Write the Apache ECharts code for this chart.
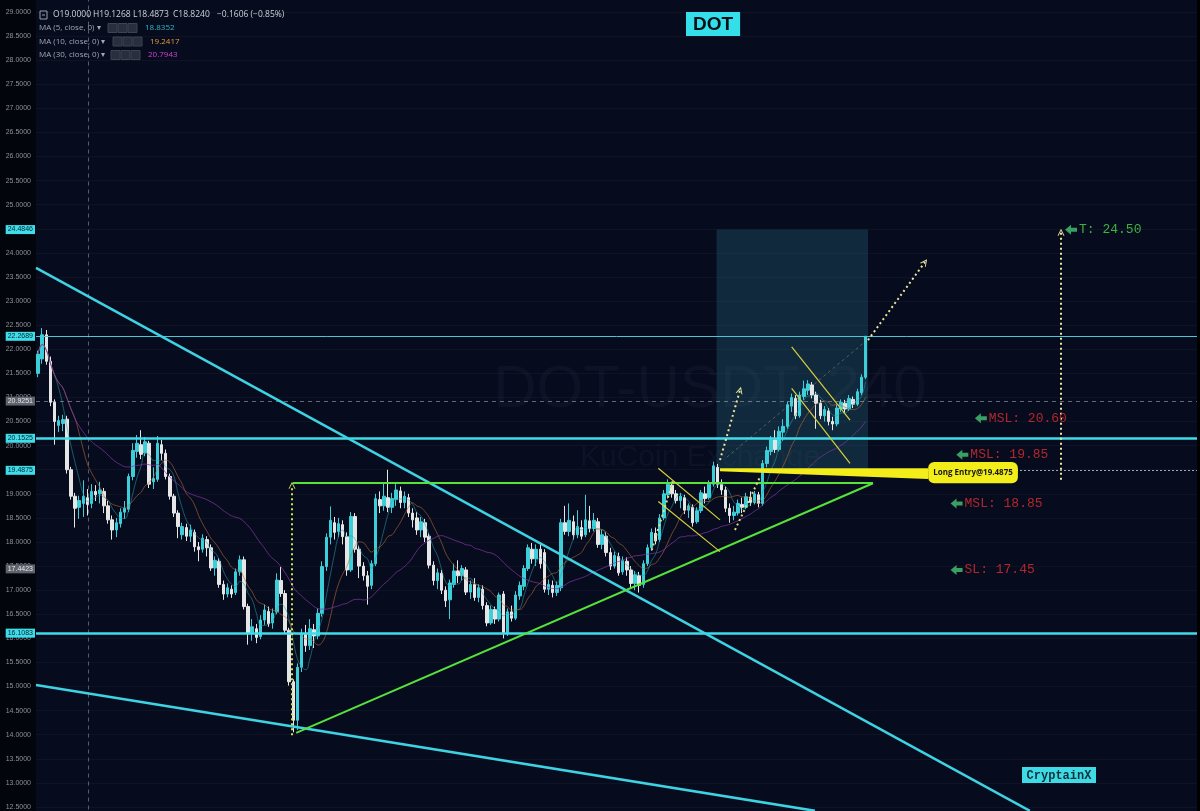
<!DOCTYPE html>
<html>
<head>
<meta charset="utf-8">
<script src="https://cdn.jsdelivr.net/npm/echarts/dist/echarts.min.js"></script>
<style>
  html, body { margin: 0; padding: 0; background: #000; }
  #main { width: 1200px; height: 811px; }
</style>
</head>
<body>
<div id="main"></div>
<script>
// DOT-USDT 4h candles: [open, close, low, high]
var candles = [
  [21.50,21.90,21.42,21.97],[21.80,22.30,21.70,22.44],[22.30,21.75,21.68,22.40],[21.75,20.90,20.82,21.85],[20.90,20.50,20.02,20.96],
  [20.42,20.52,20.28,20.62],[20.46,20.54,20.30,20.64],[20.55,19.50,19.42,20.62],[19.50,18.95,18.88,19.56],[18.95,18.70,18.30,19.02],
  [18.72,18.86,18.48,18.96],[18.80,18.95,18.52,19.28],[18.92,18.78,18.55,19.10],[18.80,19.05,18.70,19.20],[19.05,18.98,18.85,19.18],
  [19.00,19.08,18.80,19.25],[19.05,18.75,18.60,19.12],[18.75,18.46,18.38,18.85],[18.46,18.25,18.05,18.55],[18.25,18.40,18.10,18.50],
  [18.38,18.62,18.30,18.70],[18.62,18.70,18.48,18.85],[18.68,19.36,18.62,19.42],[19.36,19.90,19.28,20.05],[19.88,20.05,19.75,20.22],
  [20.02,19.82,19.72,20.32],[19.85,20.08,19.78,20.18],[20.05,19.20,19.12,20.10],[19.25,19.32,19.10,19.55],[19.30,20.05,19.25,20.20],
  [20.02,19.84,19.70,20.12],[19.84,19.36,19.30,19.92],[19.36,18.95,18.88,19.42],[18.95,18.60,18.52,19.00],[18.60,18.32,18.08,18.66],
  [18.15,18.32,18.05,18.40],[18.30,18.12,18.02,18.38],[18.12,18.25,18.00,18.36],[18.20,17.90,17.80,18.26],[17.90,17.84,17.60,18.00],
  [17.85,18.08,17.78,18.16],[18.05,17.88,17.70,18.12],[17.88,17.46,17.40,17.95],[17.46,17.62,17.30,17.70],[17.60,17.12,17.05,17.66],
  [17.12,16.92,16.80,17.20],[16.92,17.05,16.85,17.14],[17.02,16.92,16.84,17.10],[16.95,17.38,16.90,17.45],[17.38,17.63,17.30,17.72],
  [17.63,16.66,16.60,17.70],[16.66,16.10,15.87,16.72],[16.12,16.24,15.95,16.40],[16.20,16.02,15.90,16.30],[16.04,16.38,15.98,16.48],
  [16.38,16.59,16.28,16.70],[16.56,16.30,16.24,16.66],[16.32,16.52,16.20,16.62],[16.55,17.21,16.50,17.35],[17.20,16.93,16.86,17.48],
  [16.93,16.17,16.10,17.00],[16.17,15.10,15.02,16.22],[15.10,14.30,14.05,15.15],[14.30,15.40,14.10,15.48],[15.40,16.10,15.30,16.20],
  [16.08,15.85,15.72,16.28],[15.85,16.20,15.76,16.40],[16.18,16.05,15.80,16.30],[16.05,16.52,15.98,16.62],[16.52,17.49,16.45,17.60],
  [17.49,18.10,17.40,18.18],[18.10,18.45,17.95,18.74],[18.40,18.20,18.05,18.52],[18.22,18.38,18.10,18.50],[18.36,18.11,17.95,18.45],
  [18.11,17.42,17.30,18.20],[17.42,18.53,17.38,18.62],[18.53,17.85,17.78,18.60],[17.85,17.50,17.25,17.92],[17.50,17.30,17.20,17.58],
  [17.30,17.08,16.70,17.40],[17.10,17.55,17.02,17.62],[17.55,18.90,17.50,19.00],[18.88,18.75,18.60,19.05],[18.75,18.95,18.65,19.22],
  [18.92,18.72,18.62,19.50],[18.72,18.90,18.60,19.02],[18.88,19.08,18.75,19.20],[19.06,18.82,18.70,19.15],[18.82,18.95,18.70,19.05],
  [18.92,18.60,18.52,19.00],[18.60,18.46,18.30,18.70],[18.50,18.25,18.15,18.62],[18.25,18.42,18.10,18.52],[18.40,18.10,18.00,18.48],
  [18.12,17.52,17.45,18.18],[17.52,17.20,17.10,17.60],[17.20,17.36,17.02,17.45],[17.35,17.00,16.92,17.42],[17.00,16.78,16.65,17.08],
  [16.80,17.15,16.40,17.22],[17.12,17.40,17.05,17.55],[17.40,17.30,17.15,17.62],[17.30,17.45,17.20,17.52],[17.42,16.96,16.90,17.48],
  [16.96,17.12,16.82,17.20],[17.12,16.85,16.78,17.25],[16.85,17.05,16.75,17.12],[17.02,16.68,16.60,17.10],[16.68,16.32,16.25,16.75],
  [16.32,16.60,16.28,16.68],[16.60,16.40,16.30,16.66],[16.40,16.90,16.35,16.95],[16.92,16.12,16.00,16.98],[16.12,16.55,16.05,16.62],
  [16.55,16.42,16.35,16.68],[16.42,16.90,16.38,16.98],[16.88,17.10,16.80,17.18],[17.08,17.45,17.00,17.52],[17.45,17.88,17.40,17.95],
  [17.85,17.65,17.55,17.98],[17.65,17.85,17.50,17.95],[17.85,17.55,17.45,17.95],[17.78,17.02,16.95,17.85],[17.02,17.12,16.90,17.22],
  [17.10,16.95,16.85,17.20],[16.95,17.10,16.88,17.18],[17.05,18.40,16.98,18.48],[18.40,18.22,18.15,18.75],[18.22,18.45,18.12,18.80],
  [18.42,18.15,18.05,18.55],[18.15,18.32,18.08,18.66],[18.30,18.12,18.05,18.45],[18.15,18.46,18.10,18.98],[18.44,18.28,18.20,18.75],
  [18.28,18.45,18.22,18.60],[18.42,17.95,17.88,18.50],[17.95,18.15,17.85,18.25],[18.12,17.78,17.70,18.20],[17.78,17.50,17.42,17.88],
  [17.50,17.72,17.45,17.80],[17.70,17.36,17.30,17.78],[17.38,17.62,17.32,17.70],[17.60,17.42,17.30,17.68],[17.42,17.14,17.05,17.50],
  [17.14,17.32,17.00,17.40],[17.30,17.10,16.95,17.38],[17.12,17.55,17.05,17.62],[17.55,17.88,17.50,17.95],[17.88,18.20,17.82,18.28],
  [18.18,18.02,17.95,18.30],[18.05,18.50,18.00,18.58],[18.50,19.00,18.45,19.08],[18.98,19.20,18.90,19.30],[19.18,19.00,18.92,19.25],
  [19.00,18.86,18.80,19.08],[18.86,18.95,18.70,19.02],[18.92,18.66,18.58,18.98],[18.66,18.75,18.50,18.80],[18.72,18.40,18.32,18.78],
  [18.42,18.65,18.38,18.72],[18.65,19.02,18.60,19.08],[19.00,18.90,18.80,19.15],[18.92,19.20,18.88,19.28],[19.20,19.58,19.15,19.67],
  [19.55,19.20,19.12,19.62],[19.22,19.08,18.98,19.30],[19.08,18.70,18.62,19.15],[18.70,18.55,18.40,18.80],[18.55,18.62,18.45,18.75],
  [18.60,18.80,18.55,18.88],[18.78,18.72,18.60,18.92],[18.72,18.94,18.68,19.02],[18.92,18.82,18.75,19.05],[18.82,19.00,18.78,19.06],
  [18.98,18.80,18.72,19.04],[18.80,19.63,18.75,19.70],[19.63,19.90,19.55,19.98],[19.88,20.12,19.80,20.20],[20.12,19.92,19.85,20.32],
  [19.92,20.30,19.88,20.40],[20.28,20.40,20.10,20.55],[20.40,20.85,20.35,20.92],[20.82,21.00,20.70,21.08],[20.98,20.62,20.55,21.05],
  [20.62,21.05,20.58,21.12],[21.02,21.18,20.95,21.35],[21.15,21.28,21.05,21.36],[21.26,21.05,20.98,21.32],[21.05,20.88,20.35,21.12],
  [20.88,20.62,20.55,20.95],[20.62,20.75,20.50,20.82],[20.72,20.50,20.42,20.78],[20.50,20.45,20.32,20.60],[20.45,20.78,20.40,20.85],
  [20.76,20.90,20.70,20.96],[20.88,20.76,20.68,20.95],[20.76,20.98,20.72,21.05],[20.96,20.86,20.78,21.02],[20.86,21.12,20.82,21.18],
  [21.10,21.42,21.05,21.48],[21.42,22.27,21.38,22.27]
];

// bars on screen (data + empty space on the right)
var slotCount = 282;

// price levels
var cyanLevels = [24.4846, 22.2689, 20.1525, 19.4875, 16.1083];
var grayLevels = [20.9251, 17.4423];
var drawnLevels = [22.2689, 20.1525, 16.1083];
var crossPrice = 20.9251;
var entryPrice = 19.4875;

// drawings, in [bar, price]
var positionBox = [[165.3, 24.4846], [202.1, 19.4875]];
var cyanTrends = [[[0, 23.69], [241.4, 12.42]], [[0, 15.03], [189.2, 12.42]]];
var greenLines = [[[62.4, 19.22], [203.3, 19.22]], [[63.2, 14.04], [203.3, 19.22]]];
var flagLines = [
  [[151.15, 19.53], [166.14, 18.46]], [[151.15, 18.84], [166.14, 17.80]],
  [[183.55, 22.05], [197.72, 20.53]], [[183.55, 21.19], [197.72, 19.63]]
];
var greenArrow = [[62.18, 13.99], [62.18, 19.18]];
var arrowPaths = [
  [[166.14, 19.70], [171.0, 21.15]],
  [[202.09, 22.19], [215.93, 23.81]],
  [[248.97, 19.29], [248.97, 24.43]]
];
var dotPaths = [[[149.55, 17.83], [154.8, 19.29]], [[169.78, 18.25], [175.86, 19.35]]];
var guideLine = [[167.8, 19.76], [201.85, 22.19]];
var crossBar = 12.63;
var entryWedge = [[166.14, 19.53], [216.68, 19.53], [216.68, 19.31], [166.14, 19.47]];
var entryTag = [[216.7, 19.66], [238.5, 19.22]];
var entryText = 'Long Entry@19.4875';

var notes = ['T: 24.50', 'MSL: 20.60', 'MSL: 19.85', 'MSL: 18.85', 'SL: 17.45'];
var notePoints = [[251.4, 24.48], [229.5, 20.57], [225.0, 19.81], [223.6, 18.80], [223.6, 17.42]];

// header texts
var ohlcHeader = ['O19.0000', 'H19.1268', 'L18.4873', 'C18.8240', '\u22120.1606 (\u22120.85%)'];
var maNames = ['MA (5, close, 0)', 'MA (10, close, 0)', 'MA (30, close, 0)'];
var maValues = ['18.8352', '19.2417', '20.7943'];
var maPeriods = [5, 10, 30];

var slots = [];
for (var s = 0; s < slotCount; s++) slots.push(String(s + 1));

function movingAverage(n) {
  return candles.map(function (d, i) {
    var from = Math.max(0, i - n + 1), sum = 0;
    for (var k = from; k <= i; k++) sum += candles[k][1];
    return +(sum / (i - from + 1)).toFixed(4);
  });
}

var cyan = '#3fdce9';
var maColors = ['rgba(40,160,165,0.55)', 'rgba(180,110,55,0.6)', 'rgba(130,55,160,0.75)'];
var maTextColors = ['#2fb9c1', '#e49b3c', '#d140d1'];

var cyanTag = { show: true, position: 'start', distance: 1, fontSize: 7, padding: [1, 2], color: '#06232b', backgroundColor: cyan, formatter: function (p) { return Number(p.value).toFixed(4); } };
var grayTag = { show: true, position: 'start', distance: 1, fontSize: 7, padding: [1, 2], color: '#e6e7ea', backgroundColor: '#5f636d', formatter: function (p) { return Number(p.value).toFixed(4); } };
var hidden = { color: 'rgba(0,0,0,0)', width: 0, type: 'solid' };

var levelMarks = [];
cyanLevels.forEach(function (v) {
  var shown = drawnLevels.indexOf(v) >= 0;
  var thin = v === 22.2689;
  levelMarks.push({
    yAxis: v,
    lineStyle: shown ? { color: thin ? '#4fc4d4' : cyan, width: thin ? 1 : 2.5, type: 'solid' } : hidden,
    label: cyanTag
  });
});
grayLevels.forEach(function (v) {
  levelMarks.push({
    yAxis: v,
    lineStyle: v === crossPrice ? { color: 'rgba(175,180,195,0.55)', width: 1, type: [4, 4] } : hidden,
    label: grayTag
  });
});

function segs(list) { return list.map(function (c) { return { coords: c }; }); }

var graphics = [
  { type: 'rect', x: 0, y: 0, z: -1, silent: true, shape: { width: 36, height: 811 }, style: { fill: '#03050c' } },
  { type: 'rect', x: 1197, y: 0, z: 50, silent: true, shape: { width: 3, height: 811 }, style: { fill: '#000' } },
  { type: 'text', x: 710, y: 390, z: 1, silent: true, style: { text: 'DOT-USDT, 240', align: 'center', verticalAlign: 'middle', font: '60px "Liberation Sans"', fill: 'rgba(130,140,170,0.06)' } },
  { type: 'text', x: 700, y: 458, z: 1, silent: true, style: { text: 'KuCoin Exchange', align: 'center', verticalAlign: 'middle', font: '30px "Liberation Sans"', fill: 'rgba(130,140,170,0.06)' } },
  { type: 'rect', x: 40, y: 11, z: 20, shape: { width: 7, height: 8 }, style: { fill: 'none', stroke: '#9aa0aa', lineWidth: 1 } },
  { type: 'line', z: 20, shape: { x1: 42, y1: 15, x2: 45, y2: 15 }, style: { stroke: '#9aa0aa', lineWidth: 1 } },
  { type: 'rect', x: 1022, y: 767, z: 20, shape: { width: 74, height: 16 }, style: { fill: '#3edbe6' } },
  { type: 'text', x: 1059, y: 775.5, z: 21, style: { text: 'CryptainX', align: 'center', verticalAlign: 'middle', font: 'bold 12px "Liberation Mono"', fill: '#10303a' } }
];
var headerX = [53, 93, 133, 173, 217];
ohlcHeader.forEach(function (t, i) {
  graphics.push({ type: 'text', x: headerX[i], y: 15, z: 20, style: { text: t, verticalAlign: 'middle', font: '8.5px "Open Sans"', fill: '#cdd1d8' } });
});
var boxStart = [108, 113, 111];
var valueX = [145, 150, 148];
maNames.forEach(function (t, i) {
  var y = 28 + i * 13.5;
  graphics.push({ type: 'text', x: 39, y: y, z: 20, style: { text: t + ' \u25BE', verticalAlign: 'middle', font: '8px "Open Sans"', fill: '#a2a7b1' } });
  for (var b = 0; b < 3; b++) {
    graphics.push({ type: 'rect', x: boxStart[i] + b * 10, y: y - 4.5, z: 20, shape: { width: 9, height: 9 }, style: { fill: 'rgba(55,60,75,0.7)', stroke: '#3d4352', lineWidth: 1 } });
  }
  graphics.push({ type: 'text', x: valueX[i], y: y, z: 20, style: { text: maValues[i], verticalAlign: 'middle', font: '8px "Open Sans"', fill: maTextColors[i] } });
});

var chevron = 'path://M0,10 L5,0 L10,10 L8.6,10 L5,3 L1.4,10 Z';

var series = [
  {
    name: 'position', type: 'line', xAxisIndex: 1, data: positionBox, symbol: 'none', lineStyle: { opacity: 0 }, z: 1, silent: true,
    markArea: { silent: true, itemStyle: { color: 'rgba(45,140,160,0.24)' }, data: [[{ coord: positionBox[0] }, { coord: positionBox[1] }]] }
  },
  {
    name: 'DOT-USDT', type: 'candlestick', data: candles, barWidth: 3, z: 2,
    itemStyle: { color: '#3ccfd9', color0: '#e6e6e6', borderColor: '#3ccfd9', borderColor0: '#e6e6e6', borderWidth: 1 },
    markLine: { silent: true, symbol: 'none', animation: false, precision: 4, data: levelMarks }
  }
];
maPeriods.forEach(function (n, i) {
  series.push({ name: maNames[i], type: 'line', data: movingAverage(n), showSymbol: false, smooth: true, z: 3, lineStyle: { color: maColors[i], width: 1 } });
});
series.push(
  { type: 'lines', coordinateSystem: 'cartesian2d', xAxisIndex: 1, clip: false, z: 5, silent: true,
    lineStyle: { color: '#3ed3e3', width: 2.5, opacity: 1 }, data: segs(cyanTrends) },
  { type: 'lines', coordinateSystem: 'cartesian2d', xAxisIndex: 1, clip: false, z: 5, silent: true,
    lineStyle: { color: '#55e23a', width: 2, opacity: 1 }, data: segs(greenLines) },
  { type: 'lines', coordinateSystem: 'cartesian2d', xAxisIndex: 1, clip: false, z: 5, silent: true,
    lineStyle: { color: '#d6d03c', width: 1.2, opacity: 1 }, data: segs(flagLines) },
  { type: 'lines', coordinateSystem: 'cartesian2d', xAxisIndex: 1, clip: false, z: 5, silent: true,
    lineStyle: { color: 'rgba(200,200,160,0.35)', width: 1, type: [3, 3], opacity: 1 }, data: segs([guideLine]) },
  { type: 'lines', coordinateSystem: 'cartesian2d', xAxisIndex: 1, clip: false, z: 5, silent: true,
    lineStyle: { color: 'rgba(170,175,190,0.5)', width: 1, type: [4, 4], opacity: 1 },
    data: segs([[[crossBar, 29.3], [crossBar, 12.4]]]) },
  { type: 'lines', coordinateSystem: 'cartesian2d', xAxisIndex: 1, clip: false, z: 5, silent: true,
    lineStyle: { color: 'rgba(215,220,230,0.75)', width: 1, type: [2, 2], opacity: 1 },
    data: segs([[[166.14, entryPrice], [slotCount, entryPrice]]]) },
  { type: 'lines', coordinateSystem: 'cartesian2d', xAxisIndex: 1, clip: false, z: 6, silent: true,
    symbol: ['none', chevron], symbolSize: [10, 7],
    lineStyle: { color: '#cfe05a', width: 2, type: [2, 3], opacity: 1 }, data: segs([greenArrow]) },
  { type: 'lines', coordinateSystem: 'cartesian2d', xAxisIndex: 1, clip: false, z: 6, silent: true,
    symbol: ['none', chevron], symbolSize: [10, 7],
    lineStyle: { color: '#ebe6a0', width: 2, type: [2, 3], opacity: 1 }, data: segs(arrowPaths) },
  { type: 'lines', coordinateSystem: 'cartesian2d', xAxisIndex: 1, clip: false, z: 6, silent: true,
    lineStyle: { color: '#e2dc80', width: 2, type: [2, 3], opacity: 1 }, data: segs(dotPaths) },
  {
    type: 'custom', xAxisIndex: 1, data: [[0, 0]], z: 7, silent: true, clip: false,
    renderItem: function (params, api) {
      var pts = entryWedge.map(function (p) { return api.coord(p); });
      var a = api.coord(entryTag[0]), b = api.coord(entryTag[1]);
      return {
        type: 'group', children: [
          { type: 'polygon', shape: { points: pts }, style: { fill: '#f3ee1a' } },
          { type: 'rect', shape: { x: a[0], y: a[1], width: b[0] - a[0], height: b[1] - a[1], r: 6 }, style: { fill: '#f3ee1a' } },
          { type: 'text', style: { text: entryText, x: (a[0] + b[0]) / 2, y: (a[1] + b[1]) / 2, align: 'center', verticalAlign: 'middle', font: 'bold 8px "Open Sans"', fill: '#151515' } }
        ]
      };
    }
  },
  {
    type: 'scatter', xAxisIndex: 1, z: 8, silent: true,
    symbol: 'path://M0,5 L6,0 L6,3 L12,3 L12,7 L6,7 L6,10 Z', symbolSize: [12, 10],
    itemStyle: { color: '#3a9f62', opacity: 1 },
    label: { show: true, position: 'right', distance: 2, fontFamily: 'Liberation Mono', fontSize: 13 },
    data: notePoints.map(function (p, i) {
      return { value: p, label: { formatter: notes[i], color: i === 0 ? '#3db23f' : '#b3272c' } };
    })
  }
);

var chart = echarts.init(document.getElementById('main'));
chart.setOption({
  backgroundColor: '#070b1e',
  animation: false,
  title: {
    text: 'DOT', left: 686, top: 12, padding: [3, 7, 2, 7], backgroundColor: '#35dfe9',
    textStyle: { color: '#071018', fontSize: 19, fontWeight: 'bold', fontFamily: 'Liberation Sans' }
  },
  grid: { left: 36, right: 3, top: 12, bottom: 4 },
  xAxis: [
    { type: 'category', data: slots, boundaryGap: true, show: false },
    { type: 'value', min: 0, max: slotCount, show: false }
  ],
  yAxis: {
    type: 'value', min: 12.5, max: 29, interval: 0.5,
    axisLine: { show: false }, axisTick: { show: false },
    axisLabel: { color: '#8b909b', fontSize: 7, margin: 5, formatter: function (v) { return v.toFixed(4); } },
    splitLine: { lineStyle: { color: 'rgba(255,255,255,0.035)' } }
  },
  graphic: graphics,
  series: series
});
</script>
</body>
</html>
